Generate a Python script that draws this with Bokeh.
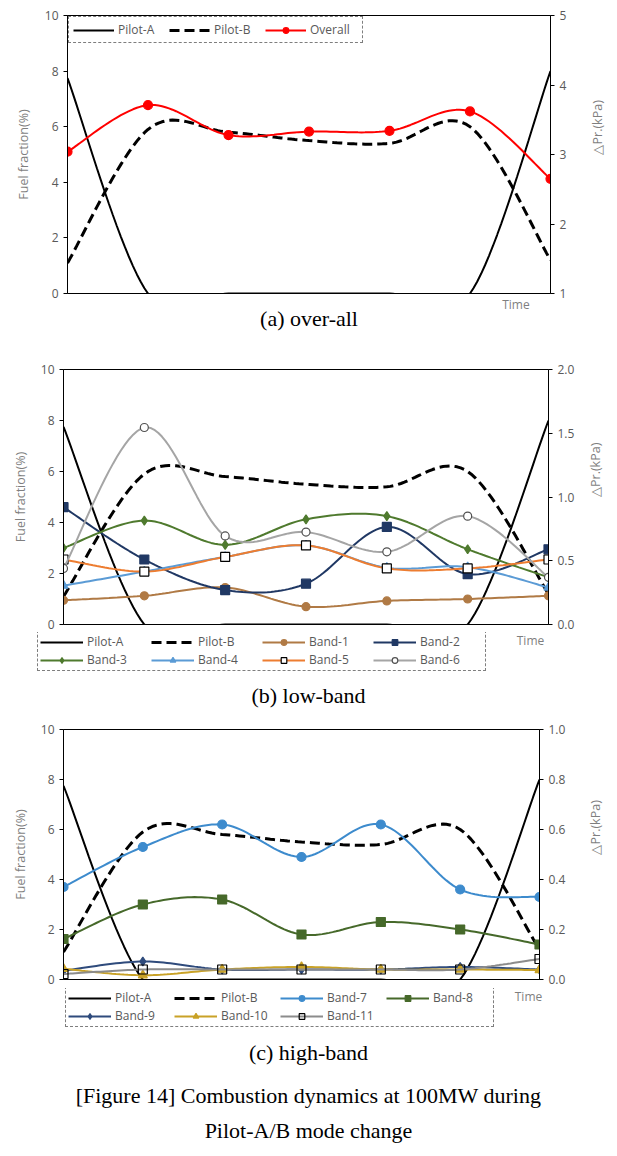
import math
import numpy as np
from bokeh.plotting import figure
from bokeh.models import (Range1d, LinearAxis, Legend, LegendItem, Label,
                          FixedTicker, NumeralTickFormatter)
from bokeh.embed import file_html
from bokeh.resources import INLINE

# ---------------- data ----------------
time_idx = [0, 1, 2, 3, 4, 5, 6]
pilot_a = [7.75, 0, 0, 0, 0, 0, 8.0]          # fuel fraction (%)
pilot_b = [1.1, 5.9, 5.8, 5.5, 5.4, 6.0, 1.2]  # fuel fraction (%)
overall = [3.04, 3.71, 3.28, 3.33, 3.34, 3.62, 2.65]  # kPa
band_1 = [0.19, 0.225, 0.29, 0.14, 0.185, 0.20, 0.225]
band_2 = [0.92, 0.51, 0.27, 0.32, 0.765, 0.395, 0.59]
band_3 = [0.60, 0.815, 0.625, 0.825, 0.85, 0.59, 0.37]
band_4 = [0.305, 0.415, 0.53, 0.62, 0.445, 0.45, 0.29]
band_5 = [0.51, 0.415, 0.53, 0.62, 0.44, 0.44, 0.51]
band_6 = [0.44, 1.545, 0.695, 0.725, 0.57, 0.85, 0.37]
band_7 = [0.37, 0.53, 0.62, 0.49, 0.62, 0.36, 0.33]
band_8 = [0.162, 0.30, 0.32, 0.18, 0.23, 0.20, 0.14]
band_9 = [0.035, 0.072, 0.04, 0.04, 0.04, 0.05, 0.04]
band_10 = [0.043, 0.017, 0.04, 0.05, 0.04, 0.04, 0.038]
band_11 = [0.022, 0.04, 0.04, 0.04, 0.04, 0.04, 0.082]

left_ticks = [0, 2, 4, 6, 8, 10]
ticks_a = [1, 2, 3, 4, 5]
ticks_b = [0.0, 0.5, 1.0, 1.5, 2.0]
ticks_c = [0.0, 0.2, 0.4, 0.6, 0.8, 1.0]

SANS = "Open Sans"
SERIF = "Liberation Serif"
GREY = "#595959"
LGREY = "#7f7f7f"
NAN = [float("nan")]

# series styles (name -> color, marker, size, fill, marker line)
STY = {
    "Overall": ("#ff0000", "circle", 9, None, None),
    "Band-1": ("#b07a45", "circle", 8, None, None),
    "Band-2": ("#203864", "square", 9, None, None),
    "Band-3": ("#4f7a2e", "diamond", 9, None, None),
    "Band-4": ("#5b9bd5", "triangle", 9, None, None),
    "Band-5": ("#ed7d31", "square", 9, "white", "black"),
    "Band-6": ("#a5a5a5", "circle", 8, "white", "#505050"),
    "Band-7": ("#3d8bcd", "circle", 9, None, None),
    "Band-8": ("#46692a", "square", 9, None, None),
    "Band-9": ("#2f4b7c", "diamond", 9, None, None),
    "Band-10": ("#c9a227", "triangle", 9, None, None),
    "Band-11": ("#8c8c8c", "square", 9, "none", "black"),
}


def smooth(xs, ys, n=24):
    """Excel-like smoothed curve (cubic Bezier through the points)."""
    P = np.column_stack([np.asarray(xs, float), np.asarray(ys, float)])
    m = len(P)
    out = []
    t = np.linspace(0, 1, n)[:, None]
    for i in range(m - 1):
        p0 = P[i - 1] if i > 0 else P[i]
        p3 = P[i + 2] if i + 2 < m else P[i + 1]
        c1 = P[i] + (P[i + 1] - p0) / 6.0
        c2 = P[i + 1] - (p3 - P[i]) / 6.0
        seg = ((1 - t) ** 3) * P[i] + 3 * ((1 - t) ** 2) * t * c1 + \
            3 * (1 - t) * t ** 2 * c2 + t ** 3 * P[i + 1]
        out.append(seg if i == 0 else seg[1:])
    s = np.vstack(out)
    return s[:, 0], s[:, 1]


def make_fig(height, bl, br, bt, bb, rrange, rticks, rfmt, lso, rso):
    p = figure(width=617, height=height, x_range=Range1d(0, 6),
               y_range=Range1d(0, 10), output_backend="svg",
               toolbar_location=None, x_axis_location=None,
               min_border_left=bl, min_border_right=br,
               min_border_top=bt, min_border_bottom=bb)
    p.grid.visible = False
    p.outline_line_color = "black"
    p.outline_line_alpha = 1
    p.outline_line_width = 1
    ax = p.yaxis[0]
    ax.ticker = FixedTicker(ticks=left_ticks)
    ax.axis_label = "Fuel fraction(%)"
    p.extra_y_ranges = {"r": Range1d(*rrange)}
    rax = LinearAxis(y_range_name="r", ticker=FixedTicker(ticks=rticks),
                     formatter=NumeralTickFormatter(format=rfmt),
                     axis_label="\u25b3Pr.(kPa)")
    rax.axis_label_orientation = math.pi / 2
    p.add_layout(rax, "right")
    for a, so in [(ax, lso), (rax, rso)]:
        a.axis_line_color = "black"
        a.major_tick_line_color = "black"
        a.major_tick_out = 4
        a.major_tick_in = 0
        a.minor_tick_line_color = None
        a.major_label_text_font = SANS
        a.major_label_text_font_size = "12px"
        a.major_label_text_color = GREY
        a.major_label_standoff = 5
        a.axis_label_text_font = SANS
        a.axis_label_text_font_size = "12.5px"
        a.axis_label_text_font_style = "normal"
        a.axis_label_text_color = LGREY
        a.axis_label_standoff = so
    return p


def legend_fig(height):
    f = figure(width=617, height=height, x_range=Range1d(0, 617),
               y_range=Range1d(height, 0), output_backend="svg",
               toolbar_location=None, x_axis_location=None,
               y_axis_location=None, min_border=0)
    f.grid.visible = False
    f.outline_line_color = None
    return f


def pilot_lines(p, xa, ya, xb, yb):
    ra = p.line(xa, ya, line_color="black", line_width=2)
    rb = p.line(xb, yb, line_color="black", line_width=3, line_dash="10 5")
    return ra, rb


def pilots(p):
    xa, ya = smooth(time_idx, pilot_a)
    xb, yb = smooth(time_idx, pilot_b)
    return pilot_lines(p, xa, ya, xb, yb)


def draw(p, name, xs, ys, mx, my, rng="r"):
    color, marker, size, fill, mline = STY[name]
    kw = {} if rng is None else {"y_range_name": rng}
    rl = p.line(xs, ys, line_color=color, line_width=2, **kw)
    fc = color if fill is None else (None if fill == "none" else fill)
    lc = color if mline is None else mline
    rm = p.scatter(mx, my, marker=marker, size=size, fill_color=fc,
                   line_color=lc, line_width=1.2, **kw)
    return [rl, rm]


def series(p, name, ys):
    xs, yy = smooth(time_idx, ys)
    return draw(p, name, xs, yy, time_idx, ys)


def proto(f, name):
    # legend-only renderer (no visible mark: NaN data)
    return draw(f, name, NAN, NAN, NAN, NAN, rng=None)


def style_legend(lg, gw, lw, pad=2, sp=1):
    lg.orientation = "horizontal"
    lg.label_text_font = SANS
    lg.label_text_font_size = "12px"
    lg.label_text_color = GREY
    lg.label_text_line_height = 1.0
    lg.glyph_width = gw
    lg.glyph_height = 14
    lg.label_height = 14
    lg.label_width = lw
    lg.label_standoff = 4
    lg.spacing = sp
    lg.padding = pad
    lg.margin = 0
    lg.border_line_color = "black"
    lg.border_line_dash = "1 1"
    lg.border_line_width = 1
    lg.background_fill_color = "white"
    lg.background_fill_alpha = 1


def below_text(p, x, off, s, size="12px", font=SERIF, color="black"):
    p.add_layout(Label(x=x, y=0, y_offset=-off, text=s, text_align="center",
                       text_baseline="middle", text_font=font,
                       text_font_size=size, text_color=color), "below")


def ftext(f, x, y, s, size="22px", font=SERIF, color="black"):
    f.add_layout(Label(x=x, y=y, text=s, text_align="center",
                       text_baseline="middle", text_font=font,
                       text_font_size=size, text_color=color))


def make_legend(f, names, loc, lw):
    ra, rb = pilot_lines(f, NAN, NAN, NAN, NAN)
    items = [LegendItem(label="Pilot-A", renderers=[ra]),
             LegendItem(label="Pilot-B", renderers=[rb])]
    for nm in names:
        items.append(LegendItem(label=nm, renderers=proto(f, nm)))
    lg = Legend(items=items, location=loc, nrows=2)
    style_legend(lg, 43, lw)
    f.add_layout(lg)


# ---------------- (a) over-all ----------------
pa = make_fig(345, 67, 64, 15, 52, (1, 5), ticks_a, "0", 10, 28)
ra, rb = pilots(pa)
ro = series(pa, "Overall", overall)
lga = Legend(items=[LegendItem(label="Pilot-A", renderers=[ra]),
                    LegendItem(label="Pilot-B", renderers=[rb]),
                    LegendItem(label="Overall", renderers=ro)],
             location="top_left")
style_legend(lga, 41, 48, pad=4, sp=3)
lga.margin = 1
pa.add_layout(lga)
below_text(pa, 5.57, 11, "Time", size="12px", font=SANS, color=LGREY)
below_text(pa, 3.0, 25, "(a) over-all", size="22px")

# ---------------- (b) low-band ----------------
pb = make_fig(287, 63, 69, 24, 8, (0, 2), ticks_b, "0.0", 9, 18)
pilots(pb)
for nm, ys in [("Band-1", band_1), ("Band-2", band_2), ("Band-3", band_3),
               ("Band-4", band_4), ("Band-5", band_5), ("Band-6", band_6)]:
    series(pb, nm, ys)

lb = legend_fig(80)
make_legend(lb, ["Band-1", "Band-2", "Band-3", "Band-4", "Band-5", "Band-6"],
            (37, 80 - 39), 63)
ftext(lb, 530, 8, "Time", size="12px", font=SANS, color=LGREY)
ftext(lb, 308, 63, "(b) low-band")

# ---------------- (c) high-band ----------------
pc = make_fig(276, 63, 78, 17, 9, (0, 1), ticks_c, "0.0", 9, 27)
pilots(pc)
for nm, ys in [("Band-7", band_7), ("Band-8", band_8), ("Band-9", band_9),
               ("Band-10", band_10), ("Band-11", band_11)]:
    series(pc, nm, ys)

lc = legend_fig(168)
make_legend(lc, ["Band-7", "Band-8", "Band-9", "Band-10", "Band-11"],
            (65, 168 - 39), 58)
ftext(lc, 528, 8, "Time", size="12px", font=SANS, color=LGREY)
ftext(lc, 308, 64, "(c) high-band")
ftext(lc, 308, 107, "[Figure 14] Combustion dynamics at 100MW during")
ftext(lc, 308, 142, "Pilot-A/B mode change")

open("out.html", "w").write(file_html([pa, pb, lb, pc, lc], INLINE))
